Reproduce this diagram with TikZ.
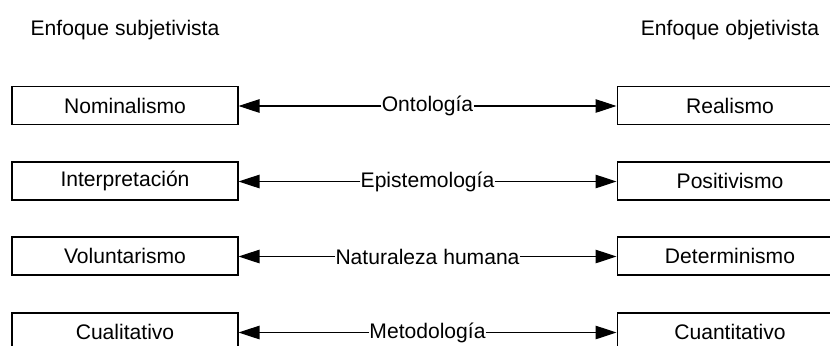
\documentclass[tikz,border=0pt]{standalone}
\usepackage{fontspec}
\setmainfont{Liberation Sans}
\usetikzlibrary{arrows.meta}

\begin{document}
\begin{tikzpicture}[x=0.02cm, y=-0.02cm,
    font=\fontsize{12}{14}\selectfont,
    caja/.style={draw, line width=0.6pt, minimum width=4.52cm, minimum height=0.76cm, inner sep=0pt},
    etiqueta/.style={inner sep=0pt},
    flecha/.style={line width=0.6pt, -{Triangle[length=0.42cm, width=0.27cm]}}]
    % Canvas (pixel units, y downwards)
    \useasboundingbox (0,0) rectangle (830,345);
    \clip (0,0) rectangle (830,345);

    % Headers
    \node[etiqueta] (subj) at (125,30) {Enfoque subjetivista};
    \node[etiqueta] (obj) at (730,30) {Enfoque objetivista};

    % Left column
    \node[caja] (nom) at (125,105.5) {Nominalismo};
    \node[caja] (int) at (125,181) {Interpretación};
    \node[caja] (vol) at (125,256) {Voluntarismo};
    \node[caja] (cua) at (125,332) {Cualitativo};

    % Right column
    \node[caja] (rea) at (730,105.5) {Realismo};
    \node[caja] (pos) at (730,181) {Positivismo};
    \node[caja] (det) at (730,256) {Determinismo};
    \node[caja] (cuan) at (730,332) {Cuantitativo};

    % Dimensions in the middle
    \node[etiqueta] (ont) at (427.5,106) {Ontología};
    \node[etiqueta] (epi) at (427.5,181.5) {Epistemología};
    \node[etiqueta] (nat) at (427.5,256.5) {Naturaleza humana};
    \node[etiqueta] (met) at (427.5,332.5) {Metodología};

    % Arrows to both sides
    \draw[flecha] (ont.west) -- (ont.west -| nom.east);
    \draw[flecha] (ont.east) -- (ont.east -| rea.west);
    \draw[flecha] (epi.west) -- (epi.west -| int.east);
    \draw[flecha] (epi.east) -- (epi.east -| pos.west);
    \draw[flecha] (nat.west) -- (nat.west -| vol.east);
    \draw[flecha] (nat.east) -- (nat.east -| det.west);
    \draw[flecha] (met.west) -- (met.west -| cua.east);
    \draw[flecha] (met.east) -- (met.east -| cuan.west);
\end{tikzpicture}
\end{document}
